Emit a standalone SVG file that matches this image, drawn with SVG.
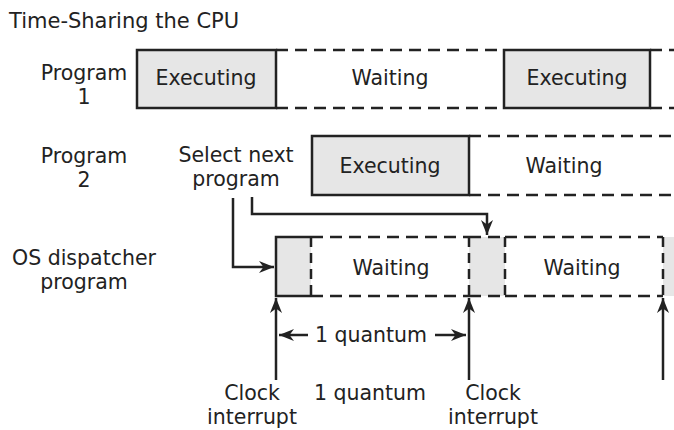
<svg xmlns="http://www.w3.org/2000/svg" width="674" height="430" viewBox="0 0 674 430">
<defs>
<style>
text{font-family:"DejaVu Sans","Liberation Sans",sans-serif;font-size:20.5px;fill:#222;}
.c{text-anchor:middle;}
.exec{fill:#e6e6e6;stroke:#222;stroke-width:2.5;}
.dash{stroke:#222;stroke-width:2.5;stroke-dasharray:12 7;fill:none;}
.vdash{stroke:#222;stroke-width:2.5;stroke-dasharray:10 6;fill:none;}
.solid{stroke:#222;stroke-width:2.5;fill:none;}
.shade{fill:#e6e6e6;stroke:none;}
.arr{stroke:#222;stroke-width:2.5;fill:none;}
</style>
<marker id="ah" viewBox="0 0 10 10" refX="10" refY="5" markerWidth="6" markerHeight="6" orient="auto-start-reverse" markerUnits="strokeWidth">
<path d="M0,1 L10,5 L0,9 L3,5 Z" fill="#222"/>
</marker>
</defs>
<rect width="674" height="430" fill="#fff"/>
<text x="9" y="28" style="font-size:21px">Time-Sharing the CPU</text>

<g id="label-p1"><text class="c" x="84" y="80">Program</text><text class="c" x="84" y="104">1</text></g>
<g id="label-p2"><text class="c" x="84" y="163">Program</text><text class="c" x="84" y="187">2</text></g>
<g id="label-os"><text class="c" x="84" y="265">OS dispatcher</text><text class="c" x="84" y="289">program</text></g>
<g id="label-select"><text class="c" x="236" y="162">Select next</text><text class="c" x="236" y="186">program</text></g>

<g id="p1-exec1"><rect class="exec" x="137" y="50" width="139" height="58"/><text class="c" x="206" y="85">Executing</text></g>
<g id="p1-wait"><line class="dash" x1="276" y1="50" x2="504" y2="50"/><line class="dash" x1="276" y1="108" x2="504" y2="108"/><text class="c" x="390" y="85">Waiting</text></g>
<g id="p1-exec2"><rect class="exec" x="504" y="50" width="146" height="58"/><text class="c" x="577" y="85">Executing</text></g>
<g id="p1-wait2"><line class="dash" x1="650" y1="50" x2="674" y2="50" stroke-dasharray="6 6 12 7"/><line class="dash" x1="650" y1="108" x2="674" y2="108" stroke-dasharray="6 6 12 7"/></g>

<g id="p2-exec"><rect class="exec" x="312" y="136" width="157" height="59"/><text class="c" x="390" y="173">Executing</text></g>
<g id="p2-wait"><line class="dash" x1="469" y1="136" x2="674" y2="136"/><line class="dash" x1="469" y1="195" x2="674" y2="195"/><text class="c" x="564" y="173">Waiting</text></g>

<g id="os-run1"><rect class="shade" x="276" y="237" width="35" height="59"/><path class="solid" d="M311,237 H276 V296 H311"/><line class="vdash" x1="311" y1="237" x2="311" y2="296"/></g>
<g id="os-wait1"><line class="dash" x1="311" y1="237" x2="469" y2="237"/><line class="dash" x1="311" y1="296" x2="469" y2="296"/><text class="c" x="391" y="275">Waiting</text></g>
<g id="os-run2"><rect class="shade" x="469" y="237" width="36" height="59"/><line class="vdash" x1="469" y1="237" x2="469" y2="296"/><line class="vdash" x1="505" y1="237" x2="505" y2="296"/><line class="dash" x1="469" y1="237" x2="505" y2="237"/><line class="dash" x1="469" y1="296" x2="505" y2="296"/></g>
<g id="os-wait2"><line class="dash" x1="505" y1="237" x2="663" y2="237"/><line class="dash" x1="505" y1="296" x2="663" y2="296"/><text class="c" x="582" y="275">Waiting</text></g>
<g id="os-run3"><rect class="shade" x="663" y="237" width="11" height="59"/><line class="vdash" x1="663" y1="237" x2="663" y2="296"/></g>

<g id="clock1"><text class="c" x="252" y="400">Clock</text><text class="c" x="252" y="424">interrupt</text></g>
<g id="clock2"><text class="c" x="493" y="400">Clock</text><text class="c" x="493" y="424">interrupt</text></g>
<g id="quantum-label"><text class="c" x="370" y="400">1 quantum</text></g>
<g id="quantum-span"><text class="c" x="371" y="342">1 quantum</text></g>

<g id="connectors">
<path class="arr" d="M233,198 V267 H274" marker-end="url(#ah)"/>
<path class="arr" d="M252,197 V214 H487 V235" marker-end="url(#ah)"/>
<line class="arr" x1="276" y1="380" x2="276" y2="298" marker-end="url(#ah)"/>
<line class="arr" x1="469" y1="380" x2="469" y2="298" marker-end="url(#ah)"/>
<line class="arr" x1="663" y1="380" x2="663" y2="298" marker-end="url(#ah)"/>
<line class="arr" x1="308" y1="335" x2="279" y2="335" marker-end="url(#ah)"/>
<line class="arr" x1="435" y1="335" x2="466" y2="335" marker-end="url(#ah)"/>
</g>
</svg>
